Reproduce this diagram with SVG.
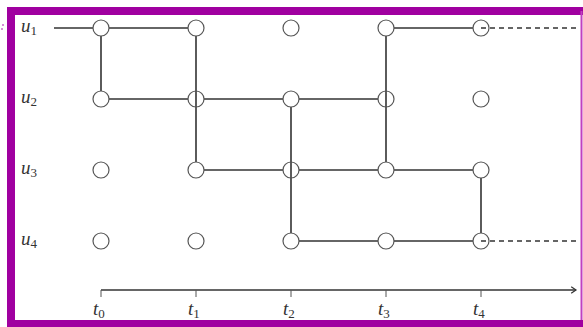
<svg xmlns="http://www.w3.org/2000/svg" width="583" height="327" viewBox="0 0 583 327">
  <style>
    .edge { stroke: #333; stroke-width: 1.6; fill: none; }
    .dash { stroke: #333; stroke-width: 1.6; fill: none; stroke-dasharray: 5 4; }
    .node circle { fill: #fff; stroke: #555; stroke-width: 1.2; }
    .lbl { font-family: "Liberation Serif", "DejaVu Serif", serif; font-size: 19px; fill: #333; font-style: italic; }
    .sub { font-style: normal; font-size: 13px; }
    .frame { fill: none; stroke: #a000a0; }
  </style>
  <defs>
    <marker id="arrow" viewBox="0 0 10 10" refX="8" refY="5" markerWidth="8" markerHeight="8" orient="auto" markerUnits="userSpaceOnUse">
      <path d="M2,1 L8,5 L2,9" fill="none" stroke="#333" stroke-width="1.5"/>
    </marker>
  </defs>

  <rect width="583" height="327" fill="#fff"/>

  <!-- frame -->
  <g id="frame">
    <path d="M11,327 L11,11 L583,11" class="frame" stroke-width="8"/>
    <line x1="581.5" y1="11" x2="581.5" y2="327" stroke="#c040c0" stroke-width="2"/>
    <line x1="7" y1="323.5" x2="583" y2="323.5" stroke="#a000a0" stroke-width="7"/>
    <circle cx="3" cy="25" r="0.8" fill="#a000a0"/>
    <circle cx="2" cy="29" r="0.8" fill="#a000a0"/>
  </g>

  <!-- connectors: drawn first, nodes sit on top -->
  <g id="connectors">
    <!-- u1 row -->
    <line class="edge" x1="54" y1="28" x2="93" y2="28"/>
    <line class="edge" x1="109" y1="28" x2="188" y2="28"/>
    <line class="edge" x1="394" y1="28" x2="473" y2="28"/>
    <!-- u2 row -->
    <line class="edge" x1="109" y1="99" x2="188" y2="99"/>
    <line class="edge" x1="204" y1="99" x2="283" y2="99"/>
    <line class="edge" x1="299" y1="99" x2="378" y2="99"/>
    <!-- u3 row -->
    <line class="edge" x1="204" y1="170" x2="283" y2="170"/>
    <line class="edge" x1="299" y1="170" x2="378" y2="170"/>
    <line class="edge" x1="394" y1="170" x2="473" y2="170"/>
    <!-- u4 row -->
    <line class="edge" x1="299" y1="241" x2="378" y2="241"/>
    <line class="edge" x1="394" y1="241" x2="473" y2="241"/>
    <!-- verticals (pass through intermediate nodes) -->
    <line class="edge" x1="101" y1="36" x2="101" y2="91"/>
    <line class="edge" x1="196" y1="36" x2="196" y2="162"/>
    <line class="edge" x1="291" y1="107" x2="291" y2="233"/>
    <line class="edge" x1="386" y1="36" x2="386" y2="162"/>
    <line class="edge" x1="481" y1="178" x2="481" y2="233"/>
  </g>

  <!-- nodes -->
  <g id="nodes" class="node">
    <g id="n-t0-u1"><circle cx="101" cy="28" r="8"/></g>
    <g id="n-t1-u1"><circle cx="196" cy="28" r="8"/></g>
    <g id="n-t2-u1"><circle cx="291" cy="28" r="8"/></g>
    <g id="n-t3-u1"><circle cx="386" cy="28" r="8"/></g>
    <g id="n-t4-u1"><circle cx="481" cy="28" r="8"/></g>
    <g id="n-t0-u2"><circle cx="101" cy="99" r="8"/></g>
    <g id="n-t1-u2"><circle cx="196" cy="99" r="8" fill-opacity="0"/></g>
    <g id="n-t2-u2"><circle cx="291" cy="99" r="8"/></g>
    <g id="n-t3-u2"><circle cx="386" cy="99" r="8" fill-opacity="0"/></g>
    <g id="n-t4-u2"><circle cx="481" cy="99" r="8"/></g>
    <g id="n-t0-u3"><circle cx="101" cy="170" r="8"/></g>
    <g id="n-t1-u3"><circle cx="196" cy="170" r="8"/></g>
    <g id="n-t2-u3"><circle cx="291" cy="170" r="8" fill-opacity="0"/></g>
    <g id="n-t3-u3"><circle cx="386" cy="170" r="8"/></g>
    <g id="n-t4-u3"><circle cx="481" cy="170" r="8"/></g>
    <g id="n-t0-u4"><circle cx="101" cy="241" r="8"/></g>
    <g id="n-t1-u4"><circle cx="196" cy="241" r="8"/></g>
    <g id="n-t2-u4"><circle cx="291" cy="241" r="8"/></g>
    <g id="n-t3-u4"><circle cx="386" cy="241" r="8"/></g>
    <g id="n-t4-u4"><circle cx="481" cy="241" r="8"/></g>
  </g>

  <!-- open-ended continuations -->
  <g id="continuations">
    <line class="dash" x1="481" y1="28" x2="580" y2="28"/>
    <line class="dash" x1="481" y1="241" x2="580" y2="241"/>
  </g>

  <!-- time axis -->
  <g id="axis">
    <line class="edge" x1="101" y1="290" x2="576" y2="290" marker-end="url(#arrow)"/>
    <g stroke="#555" stroke-width="1">
      <line x1="101" y1="290" x2="101" y2="297"/>
      <line x1="196" y1="290" x2="196" y2="297"/>
      <line x1="291" y1="290" x2="291" y2="297"/>
      <line x1="386" y1="290" x2="386" y2="297"/>
      <line x1="481" y1="290" x2="481" y2="297"/>
    </g>
  </g>

  <!-- labels -->
  <g id="labels" class="lbl">
    <text x="21" y="32">u<tspan class="sub" dy="3">1</tspan></text>
    <text x="21" y="103">u<tspan class="sub" dy="3">2</tspan></text>
    <text x="21" y="174">u<tspan class="sub" dy="3">3</tspan></text>
    <text x="21" y="245">u<tspan class="sub" dy="3">4</tspan></text>
    <text x="93" y="315">t<tspan class="sub" dy="3">0</tspan></text>
    <text x="188" y="315">t<tspan class="sub" dy="3">1</tspan></text>
    <text x="283" y="315">t<tspan class="sub" dy="3">2</tspan></text>
    <text x="378" y="315">t<tspan class="sub" dy="3">3</tspan></text>
    <text x="473" y="315">t<tspan class="sub" dy="3">4</tspan></text>
  </g>
</svg>
